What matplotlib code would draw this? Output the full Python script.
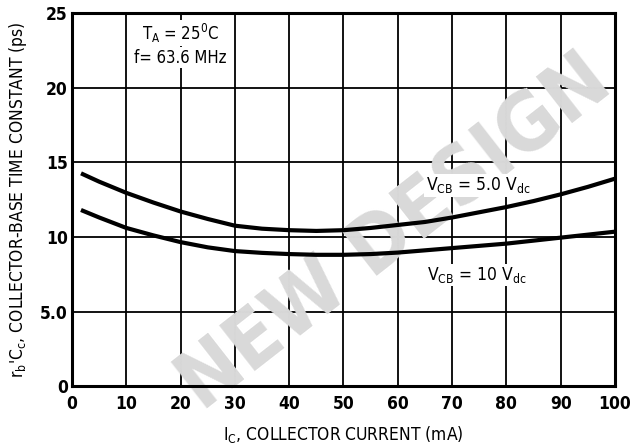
import matplotlib
matplotlib.use("Agg")
import matplotlib.pyplot as plt

plt.rcParams['font.family'] = ['DejaVu Sans']
plt.rcParams['font.stretch'] = 'condensed'
plt.rcParams['mathtext.default'] = 'regular'

# collector current (mA)
ic = [2, 5, 10, 15, 20, 25, 30, 35, 40, 45, 50, 55, 60, 65, 70, 75, 80, 85, 90, 95, 100]
# time constant (ps) for the two bias voltages
tc_5v = [14.2, 13.7, 12.95, 12.3, 11.7, 11.2, 10.75, 10.55, 10.45, 10.4, 10.45, 10.6,
         10.8, 11.0, 11.3, 11.65, 12.0, 12.4, 12.85, 13.35, 13.9]
tc_10v = [11.75, 11.3, 10.6, 10.1, 9.65, 9.3, 9.05, 8.93, 8.85, 8.8, 8.8, 8.85,
          8.95, 9.1, 9.25, 9.4, 9.55, 9.75, 9.95, 10.15, 10.35]

x_ticks = [0, 10, 20, 30, 40, 50, 60, 70, 80, 90, 100]
y_ticks = [0, 5, 10, 15, 20, 25]
y_tick_labels = ['0', '5.0', '10', '15', '20', '25']

fig = plt.figure(figsize=(6.32, 4.48), dpi=100)
ax = fig.add_axes([0.114, 0.138, 0.859, 0.833])

ax.set_xlim(0, 100)
ax.set_ylim(0, 25)
ax.set_xticks(x_ticks)
ax.set_yticks(y_ticks)
ax.set_yticklabels(y_tick_labels)
ax.tick_params(length=0, labelsize=12.5, pad=6)
ax.tick_params(axis='y', pad=3)
for lbl in ax.get_xticklabels() + ax.get_yticklabels():
    lbl.set_fontweight('bold')

ax.grid(True, color='black', linewidth=1.3, zorder=1)
ax.set_axisbelow(True)
for sp in ax.spines.values():
    sp.set_linewidth(2.2)

# watermark, drawn under the annotation boxes
ax.text(0.595, 0.41, 'NEW DESIGN', transform=ax.transAxes, rotation=38,
        fontsize=58, fontweight='bold', color='#d9d9d9', ha='center',
        va='center', zorder=2, clip_on=False)

ax.plot(ic, tc_5v, color='black', linewidth=3, zorder=5)
ax.plot(ic, tc_10v, color='black', linewidth=3, zorder=5)

box = dict(facecolor='white', edgecolor='none', pad=1)
ax.text(20, 23.65, r'T$_A$ = 25$^0$C', ha='center', va='center', fontsize=12,
        bbox=box, zorder=3)
ax.text(20, 22.0, 'f= 63.6 MHz', ha='center', va='center', fontsize=12,
        bbox=box, zorder=3)
ax.text(74.8, 13.45, r'V$_{CB}$ = 5.0 V$_{dc}$', ha='center', va='center',
        fontsize=12.5, bbox=box, zorder=3)
ax.text(74.6, 7.45, r'V$_{CB}$ = 10 V$_{dc}$', ha='center', va='center',
        fontsize=12.5, bbox=box, zorder=3)

ax.set_xlabel(r'I$_C$, COLLECTOR CURRENT (mA)', fontsize=12.5, labelpad=8)
ax.set_ylabel(r"r$_b$'C$_c$, COLLECTOR-BASE TIME CONSTANT (ps)", fontsize=12.5,
              labelpad=8)

fig.savefig('out.png', dpi=100)
